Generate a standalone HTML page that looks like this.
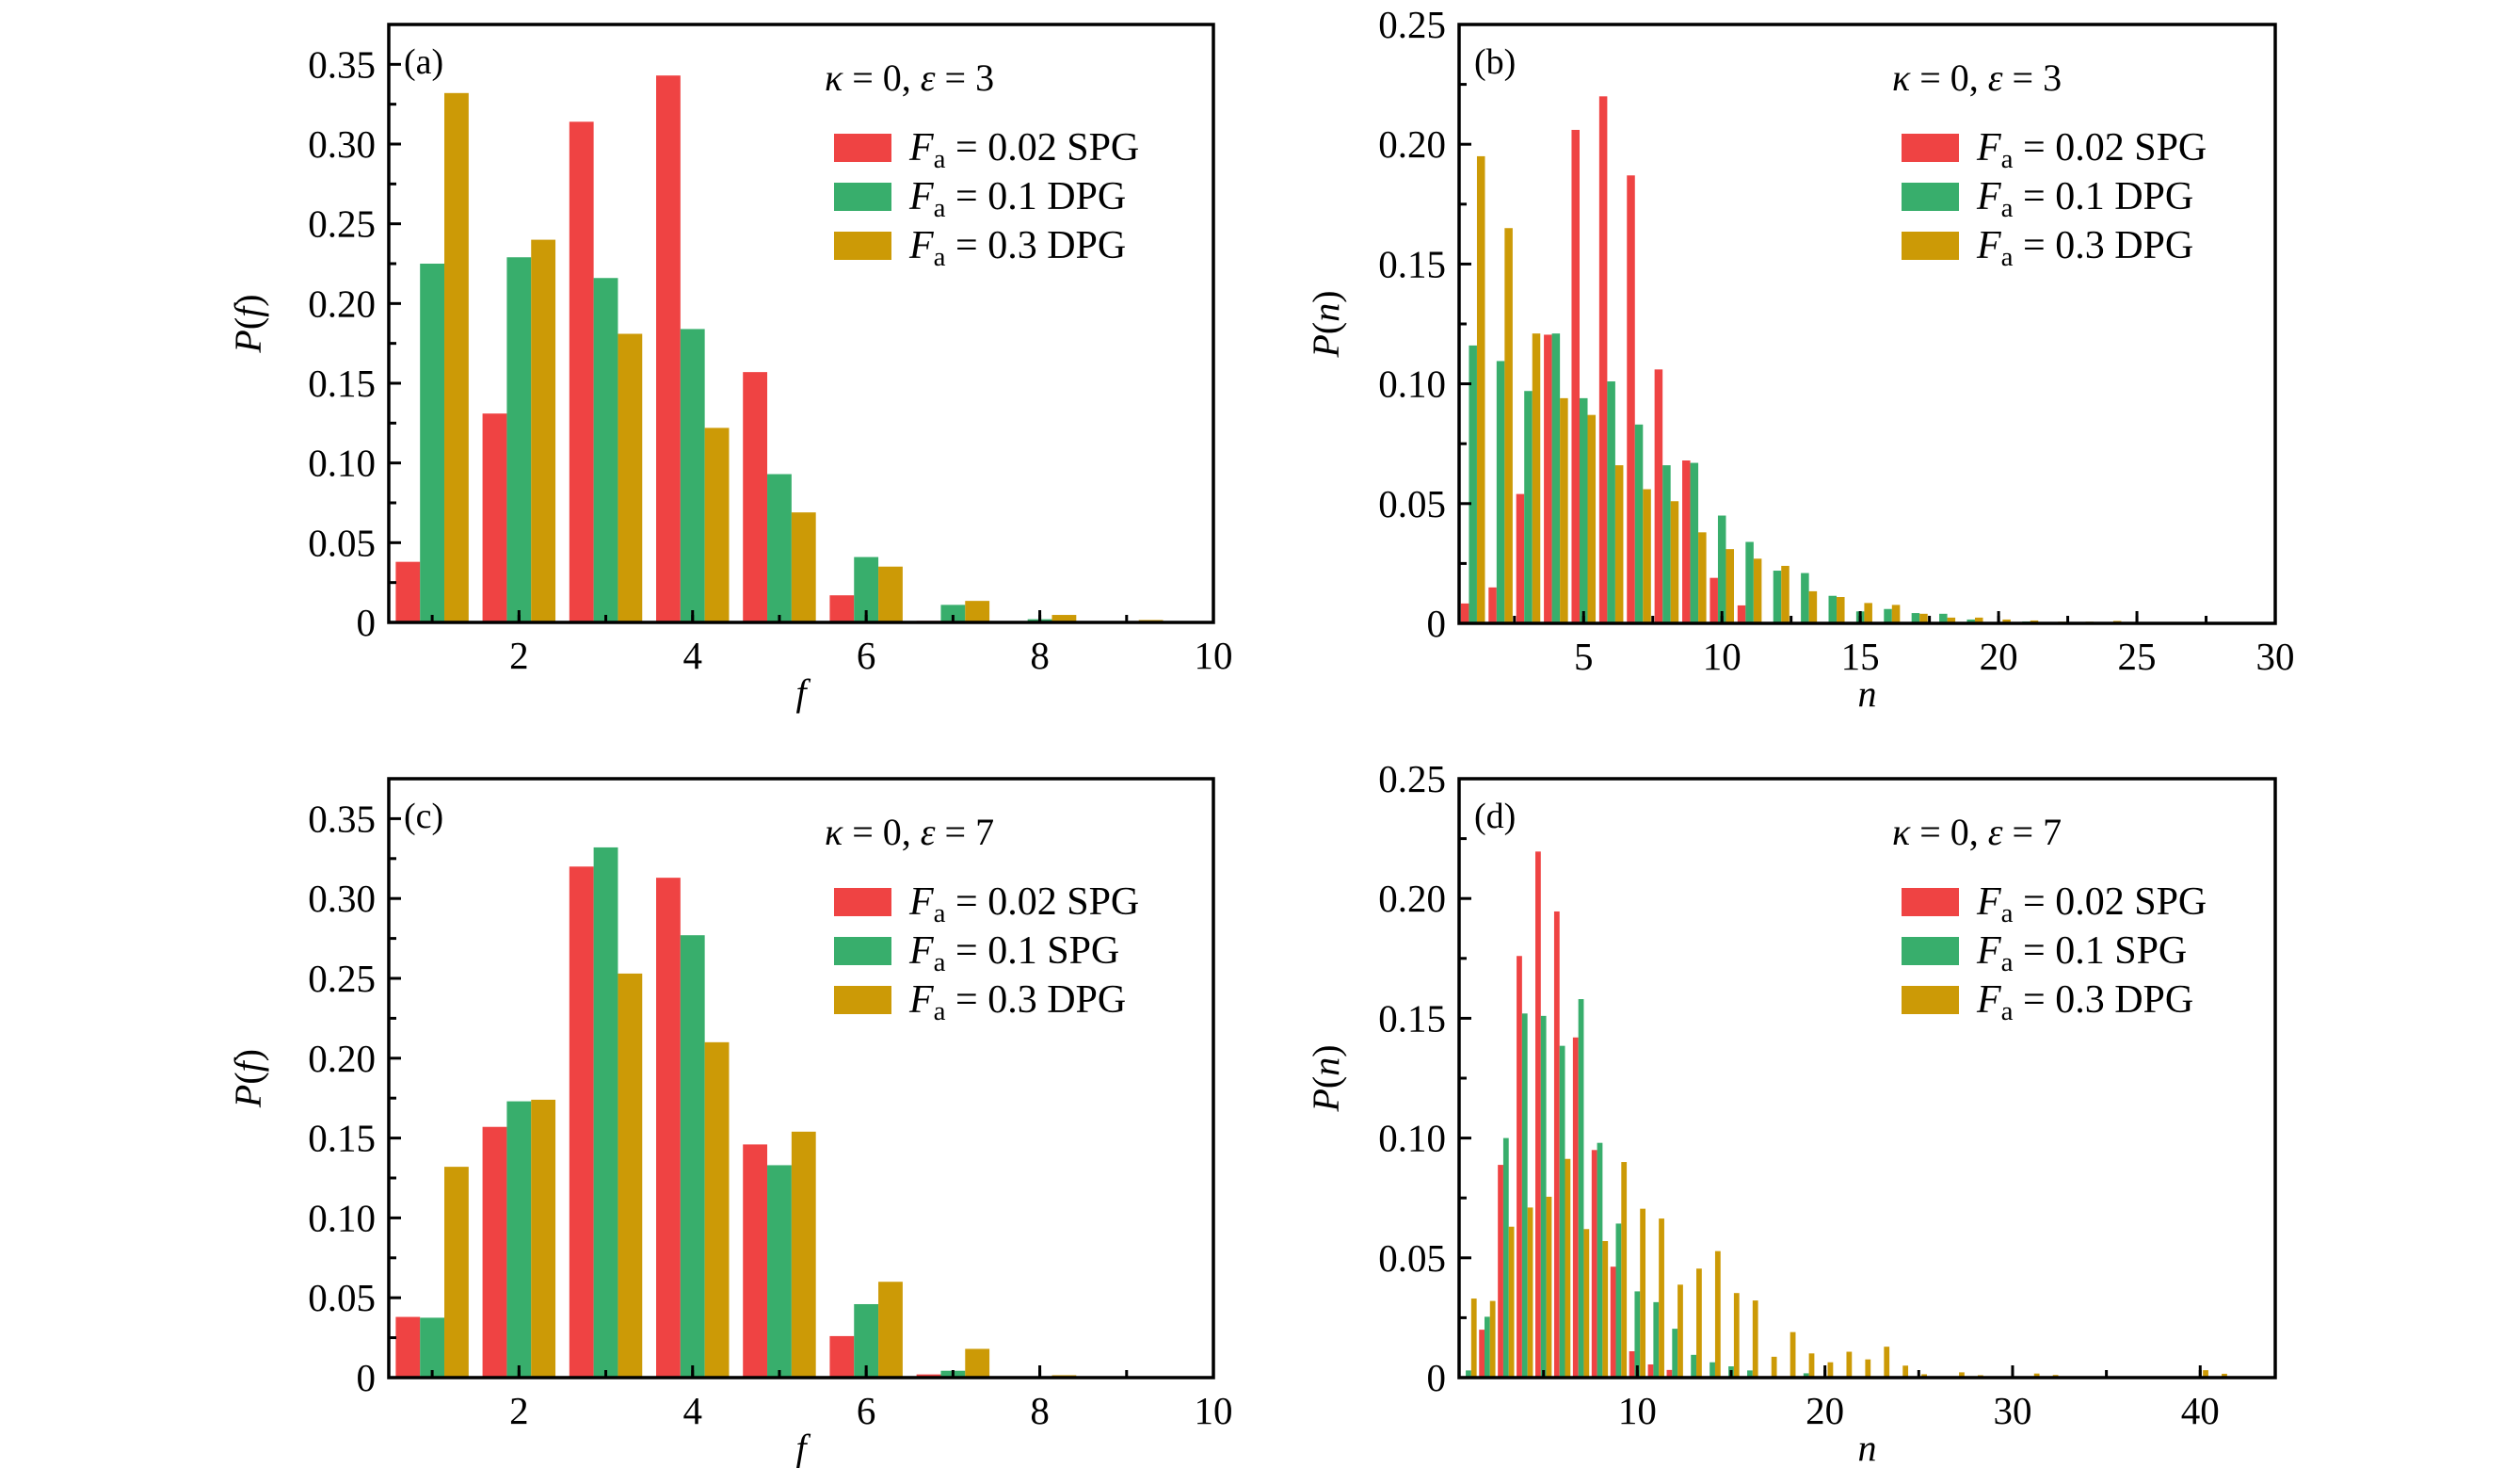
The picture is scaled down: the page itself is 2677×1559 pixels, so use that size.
<!DOCTYPE html>
<html><head><meta charset="utf-8"><style>
html,body{margin:0;padding:0;background:#fff;}
svg{display:block;font-family:"Liberation Serif","DejaVu Serif",serif;}
</style></head><body>
<svg id="fig" width="2677" height="1559" viewBox="0 0 2677 1559" xmlns="http://www.w3.org/2000/svg"></svg>
<script>
// ---- data ----
const aRed   = [0.038,0.131,0.314,0.343,0.157,0.017,0.001,0,0.0005];
const aGreen = [0.225,0.229,0.216,0.184,0.093,0.041,0.011,0.002,0.0005];
const aGold  = [0.332,0.240,0.181,0.122,0.069,0.035,0.0135,0.0047,0.0015];
const aLegend = ["0.02 SPG","0.1 DPG","0.3 DPG"];

const bRed   = [0.0083,0.015,0.054,0.1205,0.206,0.220,0.187,0.106,0.068,0.019,0.0075,0,0,0,0,0,0,0,0,0,0,0,0,0,0,0,0,0,0,0];
const bGreen = [0.116,0.1095,0.097,0.121,0.094,0.101,0.083,0.066,0.067,0.045,0.034,0.022,0.021,0.0115,0.005,0.006,0.0043,0.004,0.0016,0.0005,0.0008,0,0,0,0,0,0,0,0,0];
const bGold  = [0.195,0.165,0.121,0.094,0.087,0.066,0.056,0.051,0.038,0.031,0.027,0.024,0.0134,0.011,0.0085,0.0077,0.004,0.0024,0.0024,0.0016,0.0012,0.0007,0.0007,0.001,0.0002,0.0006,0,0,0,0];
const bLegend = ["0.02 SPG","0.1 DPG","0.3 DPG"];

const cRed   = [0.038,0.157,0.320,0.313,0.146,0.026,0.002,0,0];
const cGreen = [0.0375,0.173,0.332,0.277,0.133,0.046,0.0043,0,0];
const cGold  = [0.132,0.174,0.253,0.210,0.154,0.060,0.018,0.0015,0.0005];
const cLegend = ["0.02 SPG","0.1 SPG","0.3 DPG"];

const dRed   = [0,0.020,0.0888,0.176,0.2196,0.1946,0.142,0.095,0.0463,0.011,0.0055,0.0032,0,0,0,0,0,0,0,0,0,0,0,0,0,0,0,0,0,0,0,0,0,0,0,0,0,0,0,0,0];
const dGreen = [0.003,0.0254,0.100,0.152,0.151,0.1385,0.158,0.098,0.0643,0.036,0.0315,0.0204,0.0095,0.0064,0.0047,0.003,0,0,0.0018,0,0,0,0,0,0,0,0,0,0,0,0,0,0,0,0,0,0,0,0,0,0];
const dGold  = [0.033,0.032,0.063,0.071,0.0755,0.0913,0.062,0.057,0.090,0.0705,0.0664,0.0388,0.0455,0.0528,0.0353,0.0322,0.0087,0.019,0.0101,0.0064,0.0108,0.0076,0.0129,0.005,0.0014,0,0.0022,0.001,0,0.0004,0.0017,0.0011,0,0,0,0,0,0,0,0.0031,0.0016];
const dLegend = ["0.02 SPG","0.1 SPG","0.3 DPG"];

const fTicks = [2,4,6,8,10];
const bTicks = [5,10,15,20,25,30];
const dTicks = [10,20,30,40];
const yTicksF = ["0","0.05","0.10","0.15","0.20","0.25","0.30","0.35"];
const yTicksN = ["0","0.05","0.10","0.15","0.20","0.25"];

const COLORS = ["#ef4343","#38ae6c","#cc9a06"];
const NS = "http://www.w3.org/2000/svg";
const svg = document.getElementById("fig");

function mk(tag, attrs, parent){
  const e = document.createElementNS(NS, tag);
  for (const k in attrs) e.setAttribute(k, attrs[k]);
  (parent||svg).appendChild(e);
  return e;
}

function panel(p){
  const g = mk("g", {});
  
  
  const X = v => p.L + (v - p.x0) / (p.x1 - p.x0) * (p.R - p.L);
  const Y = v => p.B - v / p.ymax * (p.B - p.T);
  const series = [p.red, p.green, p.gold];
  const offs = [-p.w, 0, p.w];
  series.forEach((arr, s) => {
    arr.forEach((v, i) => {
      if (v <= 0) return;
      const c = i + 1 + offs[s];
      let x0 = X(c - p.w/2), x1 = X(c + p.w/2);
      if (x0 < p.L) x0 = p.L;
      if (x1 > p.R) x1 = p.R;
      if (x1 <= x0) return;
      const r = mk("rect", {x:x0, y:Y(v), width:x1-x0, height:p.B-Y(v), fill:COLORS[s]}, g);
      
      
    });
  });
  p.yLabels.forEach((lab, i) => {
    const v = parseFloat(lab), y = Y(v);
    mk("line", {x1:p.L, x2:p.L+13, y1:y, y2:y, stroke:"#000", "stroke-width":3}, g);
    const t = mk("text", {x:p.L-14, y:y+14, "text-anchor":"end", "font-size":41}, g);
    t.textContent = lab;
    
    
    const mv = v + p.ymin;
    if (mv < p.ymax) {
      const ym = Y(mv);
      mk("line", {x1:p.L, x2:p.L+8, y1:ym, y2:ym, stroke:"#000", "stroke-width":3}, g);
    }
  });
  p.xLabels.forEach(v => {
    const x = X(v);
    mk("line", {x1:x, x2:x, y1:p.B, y2:p.B-13, stroke:"#000", "stroke-width":3}, g);
    const t = mk("text", {x:x, y:p.B+49, "text-anchor":"middle", "font-size":41}, g);
    t.textContent = v;
    
    
  });
  for (let v = p.xmin0; v < p.x1; v += p.xmin) {
    if (v <= p.x0) continue;
    const x = X(v);
    mk("line", {x1:x, x2:x, y1:p.B, y2:p.B-8, stroke:"#000", "stroke-width":3}, g);
  }
  const fr = mk("rect", {x:p.L, y:p.T, width:p.R-p.L, height:p.B-p.T, fill:"none", stroke:"#000", "stroke-width":3.5}, g);
  
  
  const xt = mk("text", {x:(p.L+p.R)/2, y:p.B+88, "text-anchor":"middle", "font-size":40, "font-style":"italic"}, g);
  xt.textContent = p.xTitle;
  
  
  const cy = (p.T+p.B)/2;
  const yt = mk("text", {x:p.yTitleX, y:cy, "text-anchor":"middle", "font-size":40, transform:`rotate(-90 ${p.yTitleX} ${cy})`}, g);
  yt.innerHTML = `<tspan font-style="italic">P</tspan>(<tspan font-style="italic">${p.xTitle}</tspan>)`;
  
  
  const pl = mk("text", {x:p.L+16, y:p.T+52, "font-size":38}, g);
  pl.textContent = p.tag;
  
  
  const kt = mk("text", {x:p.legX-10, y:p.T+70, "font-size":40}, g);
  kt.innerHTML = `<tspan font-style="italic">κ</tspan> = 0, <tspan font-style="italic">ε</tspan> = ${p.eps}`;
  
  
  p.legend.forEach((lab, i) => {
    const cyL = p.T + 131 + i*52;
    const r = mk("rect", {x:p.legX, y:cyL-15, width:61, height:30, fill:COLORS[i]}, g);
    
    
    const t = mk("text", {x:p.legX+80, y:cyL+13, "font-size":42}, g);
    t.innerHTML = `<tspan font-style="italic">F</tspan><tspan font-size="29" dy="8">a</tspan><tspan dy="-8"> = ${lab}</tspan>`;
    
    
  });
}

panel({name:"panel-a", tag:"(a)", eps:3, L:413, R:1289, T:26, B:661, x0:0.5, x1:10, ymax:0.375, ymin:0.025, w:0.28,
  red:aRed, green:aGreen, gold:aGold, legend:aLegend, xLabels:fTicks, xmin:1, xmin0:1, yLabels:yTicksF, xTitle:"f", yTitleX:277, legX:886});
panel({name:"panel-b", tag:"(b)", eps:3, L:1550, R:2417, T:26, B:662, x0:0.5, x1:30, ymax:0.25, ymin:0.025, w:0.29,
  red:bRed, green:bGreen, gold:bGold, legend:bLegend, xLabels:bTicks, xmin:2.5, xmin0:2.5, yLabels:yTicksN, xTitle:"n", yTitleX:1422, legX:2020});
panel({name:"panel-c", tag:"(c)", eps:7, L:413, R:1289, T:827, B:1463, x0:0.5, x1:10, ymax:0.375, ymin:0.025, w:0.28,
  red:cRed, green:cGreen, gold:cGold, legend:cLegend, xLabels:fTicks, xmin:1, xmin0:1, yLabels:yTicksF, xTitle:"f", yTitleX:277, legX:886});
panel({name:"panel-d", tag:"(d)", eps:7, L:1550, R:2417, T:827, B:1463, x0:0.5, x1:44, ymax:0.25, ymin:0.025, w:0.29,
  red:dRed, green:dGreen, gold:dGold, legend:dLegend, xLabels:dTicks, xmin:5, xmin0:5, yLabels:yTicksN, xTitle:"n", yTitleX:1422, legX:2020});
</script>
</body></html>
